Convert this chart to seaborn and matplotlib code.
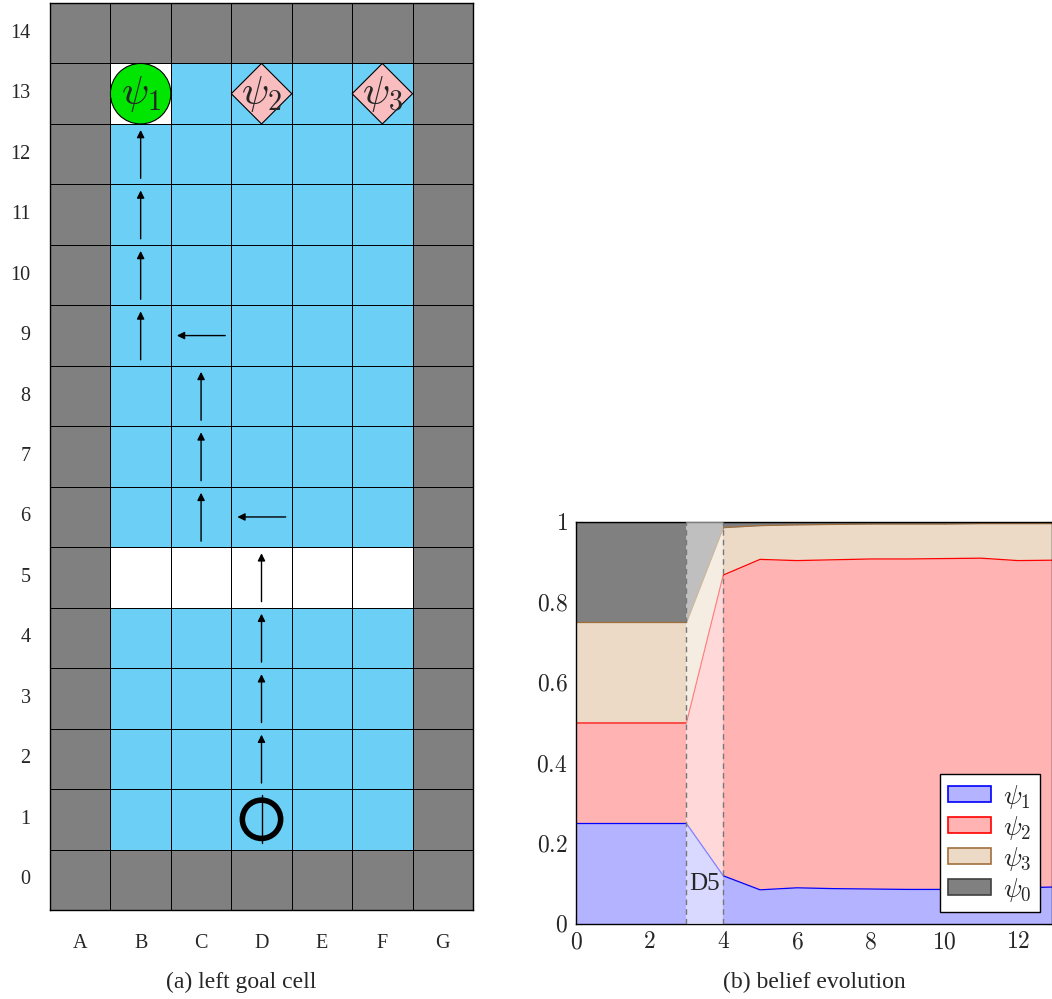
import numpy as np
import pandas as pd
import matplotlib
matplotlib.use('Agg')
import matplotlib.pyplot as plt
import seaborn as sns
from matplotlib.colors import ListedColormap
from matplotlib.patches import Circle, Polygon, Patch

# grid world: rows listed from top (14) to bottom (0); X wall, B free, W white
row_labels = [14, 13, 12, 11, 10, 9, 8, 7, 6, 5, 4, 3, 2, 1, 0]
col_labels = ['A', 'B', 'C', 'D', 'E', 'F', 'G']
grid_rows = ['XXXXXXX',
             'XWBBBBX',
             'XBBBBBX', 'XBBBBBX', 'XBBBBBX', 'XBBBBBX', 'XBBBBBX', 'XBBBBBX', 'XBBBBBX',
             'XWWWWWX',
             'XBBBBBX', 'XBBBBBX', 'XBBBBBX', 'XBBBBBX',
             'XXXXXXX']

# path arrows (column, row, direction)
arrow_cells = [('D', 2, 'up'), ('D', 3, 'up'), ('D', 4, 'up'), ('D', 5, 'up'),
               ('D', 6, 'left'), ('C', 6, 'up'), ('C', 7, 'up'), ('C', 8, 'up'),
               ('C', 9, 'left'), ('B', 9, 'up'), ('B', 10, 'up'), ('B', 11, 'up'), ('B', 12, 'up')]
start_cell = ('D', 1)
goal_cells = [('B', 13, 'circle', r'$\psi_1$'), ('D', 13, 'diamond', r'$\psi_2$'), ('F', 13, 'diamond', r'$\psi_3$')]

# belief evolution
steps = [0, 1, 2, 3, 4, 5, 6, 7, 8, 9, 10, 11, 12, 13]
psi1 = [0.25, 0.25, 0.25, 0.25, 0.12, 0.085, 0.09, 0.088, 0.087, 0.086, 0.086, 0.088, 0.09, 0.092]
psi2 = [0.25, 0.25, 0.25, 0.25, 0.748, 0.822, 0.814, 0.818, 0.821, 0.822, 0.823, 0.822, 0.814, 0.813]
psi3 = [0.25, 0.25, 0.25, 0.25, 0.118, 0.084, 0.089, 0.088, 0.087, 0.087, 0.086, 0.086, 0.092, 0.091]
psi0 = [0.25, 0.25, 0.25, 0.25, 0.014, 0.009, 0.007, 0.006, 0.005, 0.005, 0.005, 0.004, 0.004, 0.004]
series_names = [r'$\psi_1$', r'$\psi_2$', r'$\psi_3$', r'$\psi_0$']
fill_cols = ['#B3B3FF', '#FFB3B3', '#ECD9C6', '#808080']
line_cols = ['#0000FF', '#FF0000', '#A0703C', '#404040']
xticks = [0, 2, 4, 6, 8, 10, 12]
yticks = [0, 0.2, 0.4, 0.6, 0.8, 1]
ytick_labels = ['0', '0.2', '0.4', '0.6', '0.8', '1']

sns.set_theme(style='ticks')
plt.rcParams['font.family'] = ['Liberation Serif', 'DejaVu Serif']
plt.rcParams['mathtext.fontset'] = 'cm'

fig = plt.figure(figsize=(10.52, 9.99), dpi=100)

# ---- (a) grid ----
code = {'X': 0, 'B': 1, 'W': 2}
grid = pd.DataFrame([[code[ch] for ch in r] for r in grid_rows], index=row_labels, columns=col_labels)
ax1 = fig.add_axes([50/1052, 89/999, 423/1052, 907/999])
sns.heatmap(grid, ax=ax1, cmap=ListedColormap(['#808080', '#6CCFF6', '#FFFFFF']), vmin=-0.5, vmax=2.5,
            cbar=False, linewidths=0.7, linecolor='black')
ax1.tick_params(length=0, labelsize=14.5)
ax1.tick_params(axis='x', pad=17)
ax1.tick_params(axis='y', pad=14)
ax1.set_yticklabels([str(r) for r in row_labels], rotation=0)
ax1.set_xticklabels(col_labels, rotation=0)
ax1.set_xlabel('')
ax1.set_ylabel('')
for s in ax1.spines.values():
    s.set_visible(True)
    s.set_color('black')
    s.set_linewidth(1)

def cell_xy(col, row):
    return col_labels.index(col) + 0.5, row_labels.index(row) + 0.5

# line under the start marker
sx, sy = cell_xy(*start_cell)
ax1.plot([sx, sx], [sy + 0.4, sy - 0.4], color='black', lw=1)
for col, row, d in arrow_cells:
    cx, cy = cell_xy(col, row)
    if d == 'up':
        tail, head = (cx, cy + 0.4), (cx, cy - 0.4)
    else:
        tail, head = (cx + 0.4, cy), (cx - 0.4, cy)
    ax1.annotate('', xy=head, xytext=tail,
                 arrowprops=dict(arrowstyle='-|>', color='black', lw=1, mutation_scale=11, shrinkA=0, shrinkB=0))
ax1.scatter([sx], [sy], s=760, facecolors='none', edgecolors='black', linewidths=4, zorder=5)

for col, row, shape, lab in goal_cells:
    cx, cy = cell_xy(col, row)
    if shape == 'circle':
        ax1.add_patch(Circle((cx, cy), 0.5, facecolor='#00E600', edgecolor='black', lw=0.8, zorder=4))
    else:
        ax1.add_patch(Polygon([(cx, cy - 0.5), (cx + 0.5, cy), (cx, cy + 0.5), (cx - 0.5, cy)],
                              closed=True, facecolor='#F9BDC0', edgecolor='black', lw=0.8, zorder=4))
    ax1.text(cx, cy, lab, ha='center', va='center', fontsize=29, zorder=6)

fig.text(241/1052, 1 - 982/999, '(a) left goal cell', ha='center', va='center', fontsize=17)

# ---- (b) belief evolution ----
ax2 = fig.add_axes([576/1052, 75/999, 476/1052, 402/999])
bottom = np.zeros(len(steps))
handles = []
tops = []
for vals, fc, lc, name in zip([psi1, psi2, psi3, psi0], fill_cols, line_cols, series_names):
    top = bottom + np.array(vals)
    ax2.fill_between(steps, bottom, top, color=fc, lw=0, zorder=1)
    tops.append(top)
    handles.append(Patch(facecolor=fc, edgecolor=lc, label=name, lw=1.2))
    bottom = top
for top, lc in zip(tops, line_cols):
    sns.lineplot(x=steps, y=top, ax=ax2, color=lc, lw=0.9, zorder=2)

ax2.axvspan(3, 4, color='white', alpha=0.5, lw=0, zorder=3)
for xv in [3, 4]:
    ax2.axvline(xv, color='#777777', lw=1, ls=(0, (4, 3)), zorder=4)
ax2.text(3.5, 0.1, 'D5', ha='center', va='center', fontsize=18, zorder=5)

ax2.set_xlim(0, 12.93)
ax2.set_ylim(0, 1)
ax2.set_xticks(xticks)
ax2.set_xticklabels(['$%d$' % t for t in xticks])
ax2.set_yticks(yticks)
ax2.set_yticklabels(['$%s$' % t for t in ytick_labels])
ax2.tick_params(direction='in', top=True, right=True, length=5, width=0.8, color='#777777',
                labelsize=17, pad=6)
for s in ax2.spines.values():
    s.set_color('black')
    s.set_linewidth(1)
ax2.legend(handles=handles, loc='lower right', fontsize=19.5, frameon=True, fancybox=False,
           edgecolor='black', framealpha=1, handlelength=1.6, handleheight=0.55,
           borderaxespad=0.45, labelspacing=0.12, handletextpad=0.45, borderpad=0.3)

fig.text(814/1052, 1 - 982/999, '(b) belief evolution', ha='center', va='center', fontsize=17)

fig.savefig('out.png', dpi=100)
